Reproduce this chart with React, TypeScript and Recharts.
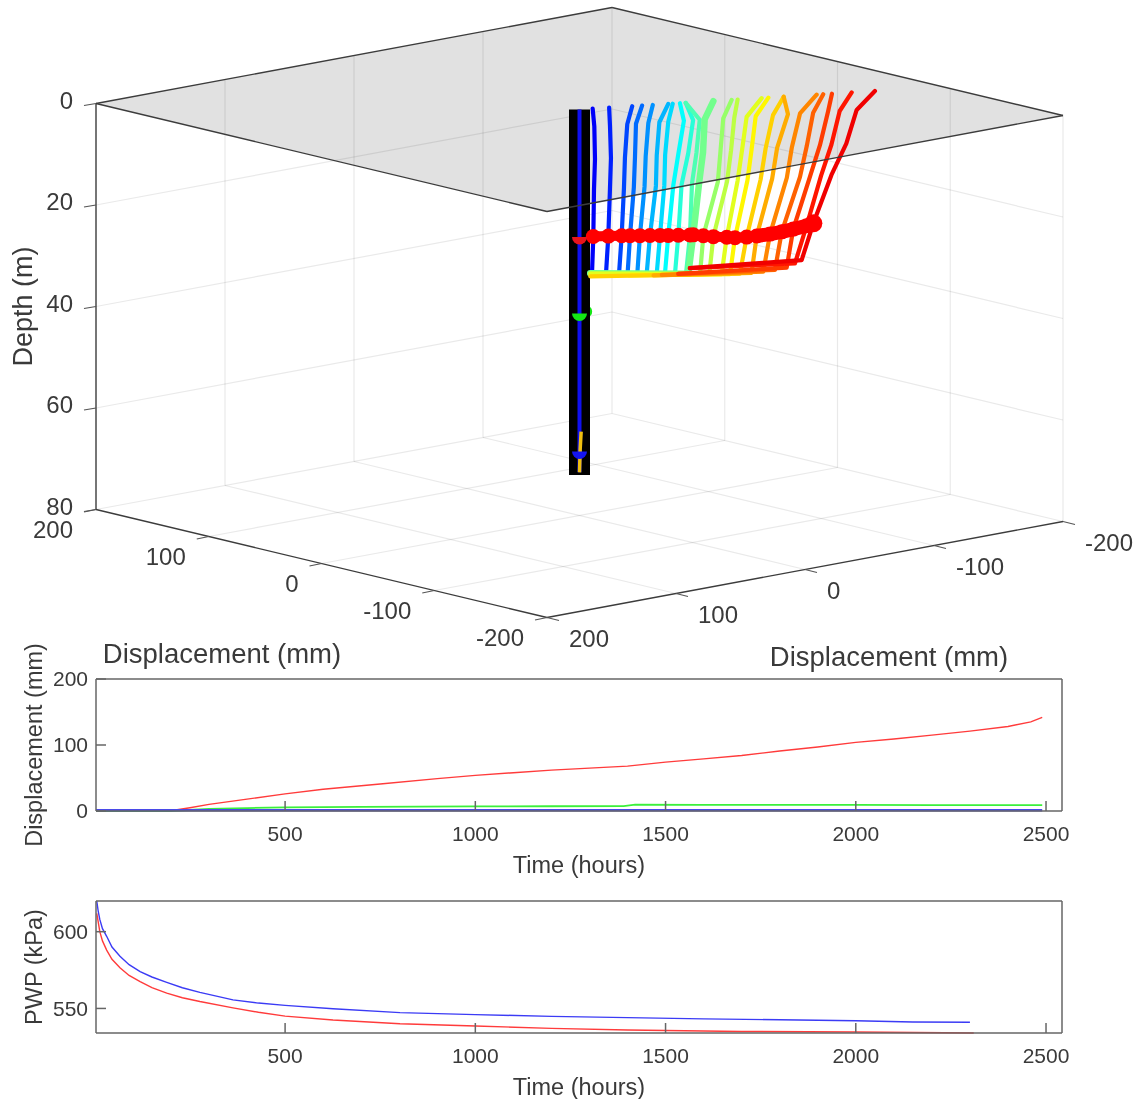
import React from "react";
import { ComposedChart, Line, Area, Scatter, XAxis, YAxis } from "recharts";

const FONT = "'Liberation Sans', Arial, sans-serif";
const TXT = "#3a3a3a";
const AX = "#666666";

// ---------- 3D view data (mm, metres) ----------
const profileDepths = [0, 3.5, 10, 16]; // then band depth, foot depth, return depth
const profileUpper = [
  [8, 9, 9.4, 8.8],
  [18, 18.5, 19.1, 18.5],
  [32, 29, 27.6, 27],
  [38, 34.3, 33.7, 33],
  [44.5, 41.8, 40.2, 39.5],
  [53.9, 48.5, 46.9, 46.4],
  [56.6, 53.9, 52, 51.5],
  [61, 63.4, 60, 57],
  [64.5, 69, 66, 62],
  [64.5, 73, 71, 68.3],
  [81.3, 76, 75, 72.6],
  [92.4, 87.3, 85.6, 84],
  [96, 94, 92, 89.6],
  [110.6, 101.5, 98.7, 96],
  [114.7, 107, 104.5, 102],
  [124, 117.5, 113, 110],
  [124, 126.6, 120, 117],
  [144, 133.9, 129, 125.9],
  [148, 141.9, 138, 133.9],
  [153.3, 150.9, 146, 140],
  [165.3, 158, 153, 146.7],
  [179.4, 168.3, 162, 153],
];
const bandDisp = [8.4, 17.5, 25.6, 30.7, 36.7, 42.8, 48.9, 53.9, 60, 67.1, 69.1, 75.2, 81.3, 89.4, 94.4, 101.5, 107.6, 115.7, 122.8, 129.8, 137.9, 142];
const bandDepth = [25.2, 25.3, 25.4, 25.5, 25.6, 25.7, 25.8, 25.9, 26, 26.1, 26.1, 26.4, 26.7, 27, 27.2, 27.2, 27.1, 26.9, 26.6, 26.2, 25.7, 25.3];
const footDisp = [7.6, 16.1, 24, 29.2, 35.1, 40.8, 46.9, 51.9, 58, 64.7, 66.1, 73.2, 78.8, 86.3, 91.4, 97.4, 104.5, 111.6, 118.7, 125.8, 130.8, 134.9];
const footDepth = [32.4, 32.6, 32.9, 33, 33.1, 33.2, 33.3, 33.4, 33.5, 33.6, 33.7, 33.9, 34, 34.2, 34.3, 34.3, 34.3, 34.2, 34, 33.7, 33, 32.4];
const returnDisp = [6.5, 6.5, 6.5, 6.5, 6.5, 6.5, 6.5, 6.5, 6.5, 6.5, 6.5, 6.5, 6.5, 6.5, 30, 6.5, 45, 50, 60, 60, 67, 67];
const returnDepth = [32.4, 32.4, 32.4, 32.4, 32.4, 32.4, 32.4, 32.4, 32.4, 32.4, 32.4, 32.4, 32.4, 32.5, 33.3, 33, 33.6, 33.6, 33.6, 33.6, 32.6, 32.6];

const sensors = [
  { name: "upper", depth: 25.1, color: "#e8141c" },
  { name: "middle", depth: 40.2, color: "#14e814" },
  { name: "lower", depth: 67.4, color: "#1414f0" },
];
const gridVals = [-100, 0, 100];
const depthGrid = [20, 40, 60];
const depthTicks = [0, 20, 40, 60, 80];
const horizTicks = [200, 100, 0, -100, -200];

// ---------- Displacement panel ----------
const redHours = [3, 195, 250, 300, 400, 500, 600, 750, 900, 1000, 1100, 1200, 1300, 1400, 1500, 1600, 1700, 1800, 1900, 2000, 2100, 2200, 2300, 2400, 2460, 2490];
const redDisp = [0, 0, 5, 10, 18, 26, 33, 41, 49, 54, 58, 62, 65, 68, 74, 79, 84, 91, 97, 104, 109, 115, 121, 128, 135, 142];
const greenHours = [3, 195, 300, 400, 500, 700, 1000, 1200, 1390, 1420, 1600, 1800, 2000, 2200, 2490];
const greenDisp = [0, 0, 3, 4.5, 5.5, 6.2, 7, 7.2, 7.5, 9.5, 9.2, 9.4, 9.2, 8.8, 9];
const blueHours = [3, 500, 1000, 1500, 2000, 2490];
const blueDisp = [1.2, 1.2, 1.2, 1.2, 1.2, 1.2];

// ---------- PWP panel ----------
const pwpBlueHours = [5, 9, 13, 20, 31, 45, 66, 90, 119, 150, 189, 230, 276, 363, 430, 500, 626, 802, 1000, 1200, 1400, 1600, 1800, 2000, 2150, 2300];
const pwpBlue = [620, 613, 608, 602, 597, 590, 584, 578.5, 574, 570.5, 567, 563.5, 560.5, 555.6, 553.5, 552, 549.8, 547.3, 546, 544.8, 544, 543.2, 542.6, 542, 541.2, 541];
const pwpRedHours = [5, 9, 13, 20, 31, 45, 66, 90, 119, 150, 189, 230, 276, 363, 430, 500, 626, 802, 1000, 1200, 1400, 1700, 2000, 2310];
const pwpRed = [612, 606, 600, 594, 588, 582, 576.5, 571.5, 567.5, 563.5, 560, 557, 554.5, 550.4, 547.5, 545, 542.5, 540, 538.6, 537, 536, 535, 534.7, 534];

const timeTicks = [500, 1000, 1500, 2000, 2500];

// ---------- Projection of the 3D box to the drawing plane ----------
function project(a: number, b: number, z: number) {
  return {
    px: 579.5 - 1.1275 * a - 1.29 * b,
    py: 109.5 - 0.27 * a + 0.24 * b + 5.075 * z,
  };
}
// displacement measured along the direction in which the wall moved
const along = (d: number, z: number) => project(-0.424 * d, -0.906 * d, z);

const jet = (t: number) => {
  const c = (v: number) => Math.round(255 * Math.max(0, Math.min(1, v)));
  const r = c(Math.min(4 * t - 1.5, 4.5 - 4 * t));
  const g = c(Math.min(4 * t - 0.5, 3.5 - 4 * t));
  const b = c(Math.min(4 * t + 0.5, 2.5 - 4 * t));
  return `rgb(${r},${g},${b})`;
};
const profileColor = (i: number) => jet(0.12 + (i / 21) * 0.77);

const zip = (xs: number[], ys: number[]) => xs.map((x, i) => ({ x, y: ys[i] }));

const P = project;
const corner = {
  left: [200, 200],
  back: [200, -200],
  right: [-200, -200],
  front: [-200, 200],
} as const;
const C = (k: keyof typeof corner, z: number) => P(corner[k][0], corner[k][1], z);

const seg = (p: any, q: any) => [p, q];

const lightSegs: any[] = [];
gridVals.forEach((v) => {
  lightSegs.push(seg(P(200, v, 0), P(200, v, 80)));
  lightSegs.push(seg(P(v, -200, 0), P(v, -200, 80)));
  lightSegs.push(seg(P(200, v, 80), P(-200, v, 80)));
  lightSegs.push(seg(P(v, -200, 80), P(v, 200, 80)));
});
depthGrid.forEach((z) => {
  lightSegs.push(seg(C("left", z), C("back", z)));
  lightSegs.push(seg(C("back", z), C("right", z)));
});
lightSegs.push(seg(C("back", 0), C("back", 80)));
lightSegs.push(seg(C("right", 0), C("right", 80)));
lightSegs.push(seg(C("left", 80), C("back", 80)));
lightSegs.push(seg(C("back", 80), C("right", 80)));

const darkSegs = [
  seg(C("left", 0), C("back", 0)),
  seg(C("back", 0), C("right", 0)),
  seg(C("right", 0), C("front", 0)),
  seg(C("front", 0), C("left", 0)),
  seg(C("left", 0), C("left", 80)),
  seg(C("left", 80), C("front", 80)),
  seg(C("front", 80), C("right", 80)),
];

const tickSegs: any[] = [];
horizTicks.forEach((v) => {
  const p = P(v, 200, 80);
  tickSegs.push(seg(p, { px: p.px - 12, py: p.py + 2.5 }));
  const q = P(-200, v, 80);
  tickSegs.push(seg(q, { px: q.px + 12, py: q.py + 3 }));
});
depthTicks.forEach((z) => {
  const p = C("left", z);
  tickSegs.push(seg(p, { px: p.px - 12, py: p.py + 2 }));
});

const labelRows = [
  ...depthTicks.map((z) => {
    const p = C("left", z);
    return { px: p.px - 23, py: p.py - 3.5, text: String(z), anchor: "end", size: 24 };
  }),
  ...horizTicks.map((v) => {
    const p = P(v, 200, 80);
    return { px: p.px - 23, py: p.py + 19.5, text: String(v), anchor: "end", size: 24 };
  }),
  ...horizTicks.map((v) => {
    const p = P(-200, v, 80);
    return { px: p.px + 22, py: p.py + 20.5, text: String(v), anchor: "start", size: 24 };
  }),
  { ...{ px: C("left", 80).px + 126, py: C("left", 80).py + 143.5 }, text: "Displacement (mm)", anchor: "middle", size: 27.5 },
  { ...{ px: C("right", 80).px - 174, py: C("right", 80).py + 134.5 }, text: "Displacement (mm)", anchor: "middle", size: 27.5 },
  { ...{ px: C("left", 40).px - 73, py: C("left", 40).py }, text: "Depth (m)", anchor: "middle", size: 27, angle: -90 },
];

const topFace = [
  { px: C("left", 0).px, hi: C("left", 0).py, lo: C("left", 0).py },
  {
    px: C("front", 0).px,
    hi: C("left", 0).py + ((C("back", 0).py - C("left", 0).py) * (C("front", 0).px - C("left", 0).px)) / (C("back", 0).px - C("left", 0).px),
    lo: C("front", 0).py,
  },
  {
    px: C("back", 0).px,
    hi: C("back", 0).py,
    lo: C("front", 0).py + ((C("right", 0).py - C("front", 0).py) * (C("back", 0).px - C("front", 0).px)) / (C("right", 0).px - C("front", 0).px),
  },
  { px: C("right", 0).px, hi: C("right", 0).py, lo: C("right", 0).py },
];

const profiles = profileUpper.map((upper, i) => [
  ...upper.map((d, k) => along(d, profileDepths[k])),
  along(bandDisp[i], bandDepth[i]),
  along(footDisp[i], footDepth[i]),
  along(returnDisp[i], returnDepth[i]),
]);
const band = [along(6.5, 25.4), ...bandDisp.map((d, i) => along(d, bandDepth[i]))];
const bandDots = bandDisp.map((d, i) => ({ ...along(d, bandDepth[i]), last: i === bandDisp.length - 1 }));
const bandEnd = bandDisp.slice(-6).map((d, i) => along(d, bandDepth[16 + i]));

const borehole = [along(0, 0), along(0, 72)];
const boreholeCore = [along(0, 0), along(0, 71.5)];
const lowerTrace = [along(1, 63.5), along(0.4, 67), along(0, 71.5)];
const sensorPoints = sensors.map((s) => ({ ...along(0, s.depth), color: s.color }));
const greenOffset = [along(4, 39.9), along(4.05, 39.9)];

const HalfDisk = (p: any) => {
  const r = 7.5;
  return <path d={`M${p.cx - r},${p.cy} A${r},${r} 0 0 0 ${p.cx + r},${p.cy} Z`} fill={p.payload.color} />;
};
const TextShape = (p: any) => {
  const d = p.payload;
  return (
    <text
      x={p.cx}
      y={p.cy}
      textAnchor={d.anchor}
      dominantBaseline="central"
      fontSize={d.size}
      fill={TXT}
      fontFamily={FONT}
      transform={d.angle ? `rotate(${d.angle} ${p.cx} ${p.cy})` : undefined}
    >
      {d.text}
    </text>
  );
};

const px = { position: "absolute" as const, left: 0 };

function Box3D() {
  const thin = (data: any[], k: string, stroke: string, w: number) => (
    <Line key={k} data={data} dataKey="py" stroke={stroke} strokeWidth={w} dot={false} isAnimationActive={false} legendType="none" />
  );
  return (
    <ComposedChart width={1143} height={700} margin={{ top: 0, right: 0, bottom: 0, left: 0 }} style={{ ...px, top: 0 }}>
      <XAxis dataKey="px" type="number" domain={[0, 1143]} hide allowDataOverflow />
      <YAxis type="number" domain={[0, 700]} reversed hide allowDataOverflow />
      <Area data={topFace} dataKey={(r: any) => [r.hi, r.lo]} type="linear" fill="#dedede" fillOpacity={0.9} stroke="none" dot={false} activeDot={false} isAnimationActive={false} />
      {lightSegs.map((s, i) => thin(s, `ls${i}`, "rgba(0,0,0,0.085)", 1.2))}
      <Line data={greenOffset} dataKey="py" stroke="#14e814" strokeWidth={12} strokeLinecap="round" dot={false} isAnimationActive={false} />
      <Line data={borehole} dataKey="py" stroke="#000" strokeWidth={21} dot={false} isAnimationActive={false} />
      <Line data={boreholeCore} dataKey="py" stroke="#1010f0" strokeWidth={4} dot={false} isAnimationActive={false} />
      <Line data={lowerTrace} dataKey="py" stroke="#f0c010" strokeWidth={3.5} dot={false} isAnimationActive={false} />
      {profiles.map((p, i) => (
        <Line key={`pr${i}`} data={p} dataKey="py" stroke={profileColor(i)} strokeWidth={i === 10 ? 6.5 : 4.2} strokeLinejoin="round" strokeLinecap="round" dot={false} isAnimationActive={false} />
      ))}
      <Line data={band} dataKey="py" stroke="#ff0000" strokeWidth={10} dot={false} isAnimationActive={false} />
      <Line data={bandEnd} dataKey="py" stroke="#ff0000" strokeWidth={14} dot={false} isAnimationActive={false} />
      <Line
        data={bandDots}
        dataKey="py"
        stroke="none"
        isAnimationActive={false}
        dot={(p: any) => <circle key={p.index} cx={p.cx} cy={p.cy} r={p.payload.last ? 9 : 7.5} fill="#ff0000" />}
      />
      {darkSegs.map((s, i) => thin(s, `ds${i}`, "#3c3c3c", 1.4))}
      {tickSegs.map((s, i) => thin(s, `ts${i}`, "#555555", 1.2))}
      <Scatter data={sensorPoints} dataKey="py" shape={HalfDisk} isAnimationActive={false} />
      <Scatter data={labelRows} dataKey="py" shape={TextShape} isAnimationActive={false} />
    </ComposedChart>
  );
}

function Panel({ top, height, xHeight, marginTop, yDomain, yTicks, yLabel, xDy, series }: any) {
  const tick = { fontSize: 21, fill: TXT, fontFamily: FONT };
  const lab = { fontSize: 23.5, fill: TXT, fontFamily: FONT };
  const axisLine = { stroke: AX, strokeWidth: 1.5 };
  return (
    <ComposedChart width={1143} height={height} margin={{ top: marginTop, right: 0, bottom: 0, left: 0 }} style={{ ...px, top }}>
      <XAxis dataKey="x" type="number" domain={[3, 2542]} ticks={timeTicks} interval={0} height={xHeight} tickSize={-10} tickMargin={25} tick={tick} tickLine={axisLine} axisLine={axisLine} label={{ value: "Time (hours)", position: "center", dy: xDy, ...lab }} />
      <XAxis xAxisId="top" dataKey="x" orientation="top" type="number" domain={[3, 2542]} ticks={timeTicks} interval={0} height={1} tickSize={-10} tick={false} tickLine={axisLine} axisLine={axisLine} />
      <YAxis type="number" domain={yDomain} ticks={yTicks} interval={0} width={96} tickSize={-10} tickMargin={18} tick={tick} tickLine={axisLine} axisLine={axisLine} label={{ value: yLabel, angle: -90, position: "center", dx: -14, ...lab }} />
      <YAxis yAxisId="right" orientation="right" type="number" domain={yDomain} ticks={yTicks} interval={0} width={81} tickSize={-10} tick={false} tickLine={axisLine} axisLine={axisLine} />
      <Line xAxisId="top" yAxisId="right" data={series[0].data} dataKey="y" stroke="none" dot={false} isAnimationActive={false} />
      {series.map((s: any) => (
        <Line key={s.name} name={s.name} data={s.data} dataKey="y" stroke={s.color} strokeWidth={s.width} dot={false} isAnimationActive={false} />
      ))}
    </ComposedChart>
  );
}

export default function App() {
  return (
    <div style={{ position: "absolute", left: 0, top: 0, width: 1143, height: 1099, background: "#fff", overflow: "hidden", fontFamily: FONT, filter: "blur(0.45px)" }}>
      <Box3D />
      <Panel
        top={640}
        height={250}
        marginTop={38}
        xHeight={79}
        yDomain={[0, 200]}
        yTicks={[0, 100, 200]}
        yLabel="Displacement (mm)"
        xDy={14}
        series={[
          { name: "red", data: zip(redHours, redDisp), color: "#ff3b3b", width: 1.4 },
          { name: "green", data: zip(greenHours, greenDisp), color: "#3bf03b", width: 1.8 },
          { name: "blue", data: zip(blueHours, blueDisp), color: "#4a4ae8", width: 2.6 },
        ]}
      />
      <Panel
        top={882}
        height={217}
        marginTop={18}
        xHeight={66}
        yDomain={[534, 620]}
        yTicks={[550, 600]}
        yLabel="PWP (kPa)"
        xDy={21}
        series={[
          { name: "red", data: zip(pwpRedHours, pwpRed), color: "#ff3b3b", width: 1.4 },
          { name: "blue", data: zip(pwpBlueHours, pwpBlue), color: "#3b3bf5", width: 1.4 },
        ]}
      />
    </div>
  );
}
